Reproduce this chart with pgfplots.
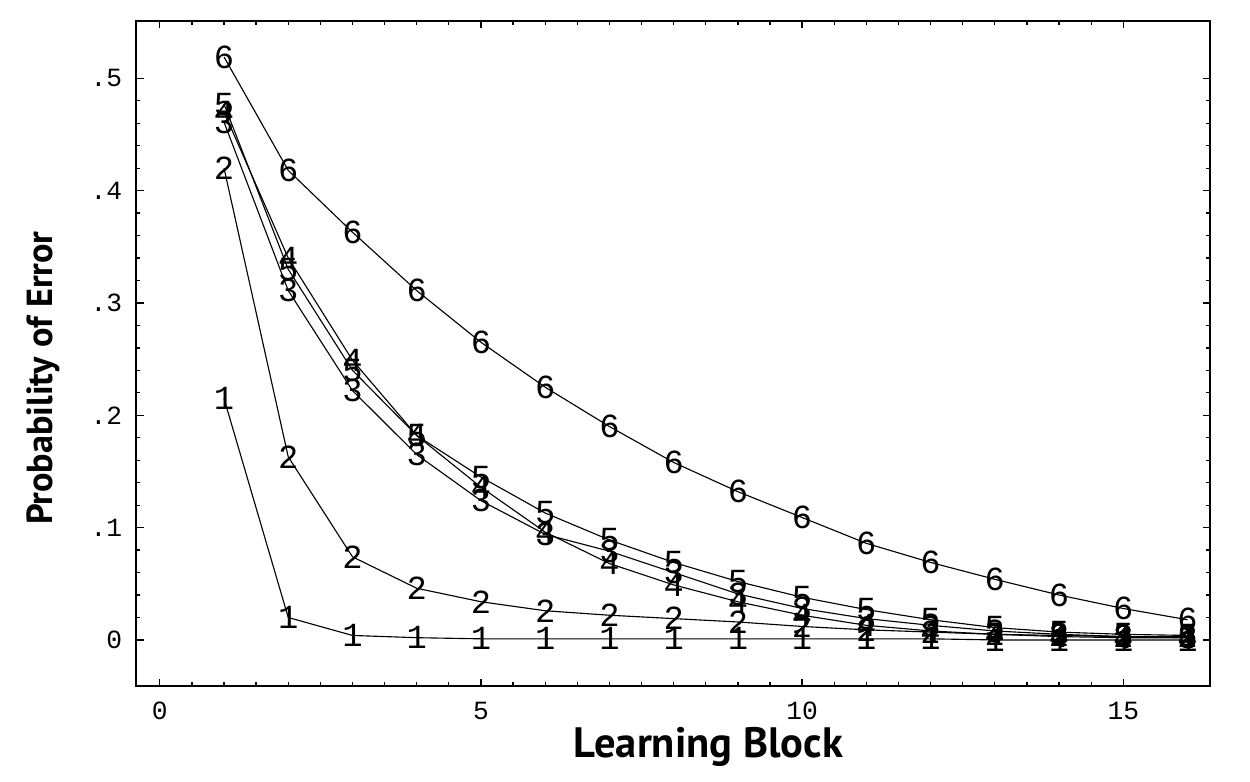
\documentclass[border=0pt]{standalone}
\usepackage{pgfplots}
\pgfplotsset{compat=1.18}
\usepackage{pgfplotstable}
\usepackage{fontspec}
\newfontfamily\mono{Liberation Mono}
\newfontfamily\labfont{PT Sans}

\pgfplotstableread{
x s1 s2 s3 s4 s5 s6
1 0.215 0.420 0.461 0.470 0.477 0.519
2 0.020 0.163 0.311 0.340 0.330 0.418
3 0.004 0.074 0.222 0.249 0.240 0.363
4 0.002 0.046 0.165 0.182 0.182 0.311
5 0.001 0.034 0.124 0.136 0.145 0.265
6 0.001 0.026 0.094 0.096 0.113 0.225
7 0.001 0.022 0.079 0.068 0.089 0.190
8 0.001 0.019 0.060 0.049 0.069 0.158
9 0.001 0.016 0.041 0.034 0.052 0.132
10 0.001 0.012 0.028 0.022 0.038 0.109
11 0.001 0.009 0.019 0.013 0.027 0.086
12 0.001 0.007 0.013 0.008 0.018 0.069
13 0.000 0.005 0.008 0.005 0.011 0.054
14 0.000 0.004 0.005 0.003 0.007 0.040
15 0.000 0.003 0.003 0.002 0.005 0.028
16 0.000 0.003 0.002 0.002 0.004 0.018
}\datatable

\begin{document}
\begin{tikzpicture}
\begin{axis}[
  scale only axis,
  width=429.6pt, height=266pt,
  xmin=-0.37, xmax=16.35,
  ymin=-0.041, ymax=0.551,
  axis line style={line width=0.7pt},
  xtick={0,5,10,15},
  xticklabels={0,5,10,15},
  ytick={0,0.1,0.2,0.3,0.4,0.5},
  yticklabels={0,.1,.2,.3,.4,.5},
  minor x tick num=9,
  minor y tick num=4,
  tick align=inside,
  major tick length=3pt,
  minor tick length=1.7pt,
  every tick/.style={black, line width=0.5pt},
  tick label style={font=\mono\fontsize{10.5}{12}\selectfont},
  xticklabel style={yshift=-3pt},
  yticklabel style={xshift=-2pt},
  xlabel={Learning Block},
  ylabel={Probability of Error},
  xlabel style={font=\labfont\bfseries\fontsize{17}{19}\selectfont, at={(axis description cs:0.533,-0.092)}, anchor=center},
  ylabel style={font=\labfont\bfseries\fontsize{14.5}{16}\selectfont, at={(axis description cs:-0.0865,0.463)}, anchor=center, rotate=0},
  every axis plot/.append style={black, line width=0.45pt},
  text mark as node=true,
  text mark style={font=\mono\fontsize{13.5}{15}\selectfont, inner sep=0pt, black},
]
\addplot[mark=text, text mark={1}] table[x=x, y=s1] {\datatable};
\addplot[mark=text, text mark={2}] table[x=x, y=s2] {\datatable};
\addplot[mark=text, text mark={3}] table[x=x, y=s3] {\datatable};
\addplot[mark=text, text mark={4}] table[x=x, y=s4] {\datatable};
\addplot[mark=text, text mark={5}] table[x=x, y=s5] {\datatable};
\addplot[mark=text, text mark={6}] table[x=x, y=s6] {\datatable};
\end{axis}
\path[use as bounding box] (-54.4pt,-38.4pt) rectangle (445.6pt,274.4pt);
\end{tikzpicture}
\end{document}
